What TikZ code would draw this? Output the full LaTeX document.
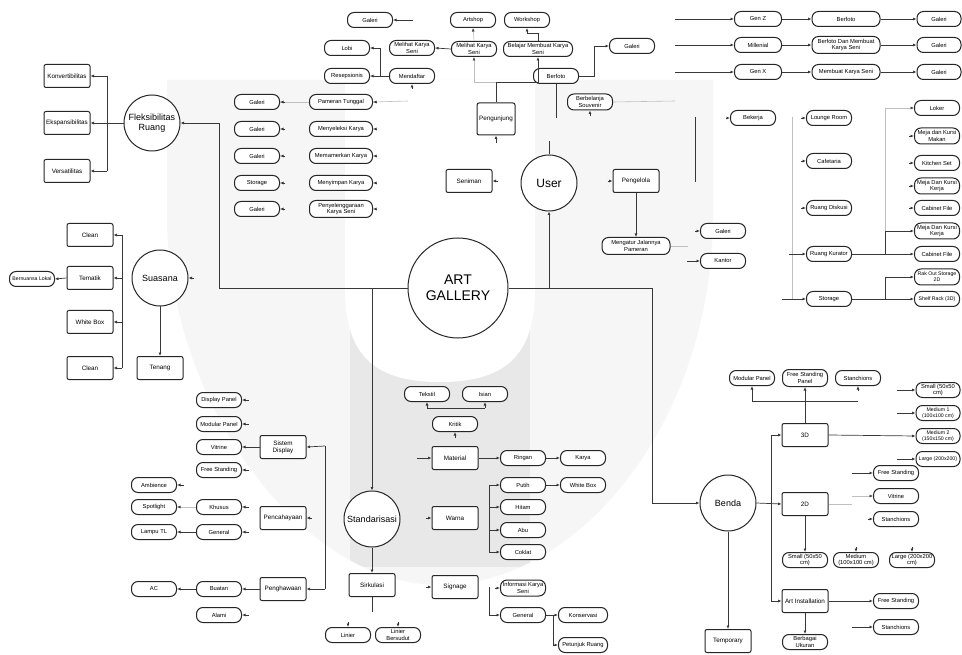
\documentclass[tikz,border=0pt]{standalone}
\usepackage{fontspec}
\setmainfont{Liberation Sans}
\usetikzlibrary{arrows.meta,calc}
\tikzset{
 ln/.style={line width=0.7pt, draw=black!78},
 ar/.style={ln, -{Latex[length=3.5pt,width=3pt]}},
 fnt/.style={line width=0.6pt, draw=black!25},
 fntar/.style={fnt, -{Latex[length=3.5pt,width=3pt,color=black!75]}},
 nd/.style={draw=black!85, line width=1pt, fill=white, align=center, inner xsep=1pt, inner ysep=1pt},
 pil/.style={nd, rounded corners=6.5pt, minimum width=45pt, minimum height=15pt, font=\fontsize{5.8}{6.4}\selectfont},
 bx/.style={nd, rounded corners=2pt, minimum width=46pt, minimum height=23pt, font=\fontsize{6.3}{7}\selectfont},
 crc/.style={nd, circle, minimum size=56pt, inner sep=0pt, font=\fontsize{9}{10.5}\selectfont},
 tiny/.style={font=\fontsize{5.2}{5.8}\selectfont},
}
\newcommand{\stubar}[3]{\draw[ar] ($(#1)+(#2,#3)$) -- (#1);}
\begin{document}
\begin{tikzpicture}[x=1pt,y=-1pt]
\useasboundingbox (0,0) rectangle (962,655);
\fill[white] (0,0) rectangle (962,655);
% watermark
\path[fill=black!3.5] (167,80) -- (713,80) -- (713,215) .. controls (713,420) and (580,585) .. (440,585) .. controls (300,585) and (167,400) .. (167,215) -- cycle;
\begin{scope}
\clip (167,80) -- (713,80) -- (713,215) .. controls (713,420) and (580,585) .. (440,585) .. controls (300,585) and (167,400) .. (167,215) -- cycle;
\fill[black!9] (350,325) rectangle (530,567);
\end{scope}
\fill[white] (345,80) -- (535,80) -- (535,290) .. controls (535,360) and (500,382) .. (440,382) .. controls (380,382) and (345,360) .. (345,290) -- cycle;

% ---------- nodes ----------
\node[crc, minimum size=100pt, font=\fontsize{14}{16}\selectfont] (art) at (458,288) {ART\\GALLERY};
% Fleksibilitas
\node[bx] (konv) at (67,76) {Konvertibilitas};
\node[bx] (eksp) at (67,123) {Ekspansibilitas};
\node[bx] (vers) at (67,171) {Versatilitas};
\node[crc] (fleks) at (152,123) {Fleksibilitas\\Ruang};
% Suasana
\node[bx] (clean1) at (90,235) {Clean};
\node[bx] (tematik) at (90,278) {Tematik};
\node[bx] (whitebox) at (90,322) {White Box};
\node[bx] (clean2) at (90,368) {Clean};
\node[crc] (suasana) at (160,278) {Suasana};
\node[bx] (tenang) at (160,368) {Tenang};
\node[pil, tiny] (bern) at (32,279) {Bernuansa Lokal};
% galeri column
\node[pil] (g1) at (257,102) {Galeri};
\node[pil] (g2) at (257,129) {Galeri};
\node[pil] (g3) at (257,156) {Galeri};
\node[pil] (g4) at (257,183) {Storage};
\node[pil] (g5) at (257,209) {Galeri};
\node[pil, minimum width=63pt] (p1) at (341,102) {Pameran Tunggal};
\node[pil, minimum width=63pt] (p2) at (341,129) {Menyeleksi Karya};
\node[pil, minimum width=63pt] (p3) at (341,156) {Memamerkan Karya};
\node[pil, minimum width=63pt] (p4) at (341,183) {Menyimpan Karya};
\node[pil, minimum width=63pt, minimum height=17pt] (p5) at (341,209) {Penyelenggaraan\\Karya Seni};
% top
\node[pil] (gal0) at (370,20) {Galeri};
\node[pil] (lobi) at (347,48) {Lobi};
\node[pil] (resep) at (347,76) {Resepsionis};
\node[pil] (daftar) at (412,76) {Mendaftar};
\node[pil] (lihat1) at (412,48) {Melihat Karya\\Seni};
\node[pil] (artshop) at (473,20) {Artshop};
\node[pil] (workshop) at (527,20) {Workshop};
\node[pil] (lihat2) at (474,49) {Melihat Karya\\Seni};
\node[pil, minimum width=69pt] (belajar) at (538,49) {Belajar Membuat Karya\\Seni};
\node[bx, minimum width=38pt, minimum height=32pt] (peng) at (496,119) {Pengunjung};
\node[crc, font=\fontsize{12}{14}\selectfont] (user) at (549,183) {User};
\node[pil] (berfoto) at (556,76) {Berfoto};
\node[pil] (gal7) at (632,46) {Galeri};
\node[pil, minimum height=16pt] (belanja) at (590,102) {Berbelanja\\Souvenir};
\node[bx] (seniman) at (469,181) {Seniman};
\node[bx] (pengelola) at (636,181) {Pengelola};
\node[pil, minimum width=68pt, minimum height=17pt] (atur) at (636,246) {Mengatur Jalannya\\Pameran};
\node[pil] (gal8) at (723,231) {Galeri};
\node[pil] (kantor) at (723,261) {Kantor};
\node[pil] (bekerja) at (753,118) {Bekerja};
% generations
\node[pil, minimum width=47pt] (genz) at (758,19) {Gen Z};
\node[pil, minimum width=47pt] (mill) at (758,45) {Millenial};
\node[pil, minimum width=47pt] (genx) at (758,72) {Gen X};
\node[pil, minimum width=68pt] (bf1) at (846,19) {Berfoto};
\node[pil, minimum width=68pt, minimum height=17pt] (bf2) at (846,45) {Berfoto Dan Membuat\\Karya Seni};
\node[pil, minimum width=68pt] (bf3) at (846,72) {Membuat Karya Seni};
\node[pil, minimum width=44pt] (gz1) at (939,19) {Galeri};
\node[pil, minimum width=44pt] (gz2) at (939,45) {Galeri};
\node[pil, minimum width=44pt] (gz3) at (939,72) {Galeri};
% rooms
\node[pil] (lounge) at (829,118) {Lounge Room};
\node[pil] (cafe) at (829,161) {Cafetaria};
\node[pil] (diskusi) at (829,208) {Ruang Diskusi};
\node[pil] (kurator) at (829,254) {Ruang Kurator};
\node[pil] (storage) at (829,299) {Storage};
\node[pil, minimum width=45pt] (loker) at (937,108) {Loker};
\node[pil, minimum height=16pt] (mejamakan) at (937,136) {Meja dan Kursi\\Makan};
\node[pil] (kitchen) at (937,163) {Kitchen Set};
\node[pil, minimum height=16pt] (mejak1) at (937,186) {Meja Dan Kursi\\Kerja};
\node[pil] (cab1) at (937,208) {Cabinet File};
\node[pil, minimum height=16pt] (mejak2) at (937,231) {Meja Dan Kursi\\Kerja};
\node[pil] (cab2) at (937,254) {Cabinet File};
\node[pil, tiny, minimum height=16pt] (rak) at (937,277) {Rak Out Storage\\2D};
\node[pil, tiny] (shelf) at (937,299) {Shelf Rack (3D)};
% Standarisasi
\node[crc] (stand) at (372,519) {Standarisasi};
\node[bx] (sirk) at (372,585) {Sirkulasi};
\node[pil] (linier) at (348,635) {Linier};
\node[pil] (linb) at (398,635) {Linier\\Bersudut};
\node[bx] (signage) at (455,587) {Signage};
\node[pil, minimum height=16pt] (info) at (523,588) {Informasi Karya\\Seni};
\node[pil] (general2) at (523,615) {General};
\node[pil, minimum width=49pt] (kons) at (583,615) {Konservasi};
\node[pil, minimum width=49pt] (petunjuk) at (583,645) {Petunjuk Ruang};
\node[bx] (material) at (455,458) {Material};
\node[pil] (ringan) at (523,458) {Ringan};
\node[pil] (karya) at (583,458) {Karya};
\node[bx] (warna) at (455,518) {Warna};
\node[pil] (putih) at (523,485) {Putih};
\node[pil] (hitam) at (523,507) {Hitam};
\node[pil] (abu) at (523,530) {Abu};
\node[pil] (coklat) at (523,552) {Coklat};
\node[pil] (wbox) at (583,485) {White Box};
\node[pil] (kritik) at (455,424) {Kritik};
\node[pil] (tekstil) at (427,394) {Tekstil};
\node[pil] (isian) at (485,394) {Isian};
% Sistem display etc
\node[pil] (dpanel) at (219,400) {Display Panel};
\node[pil] (mpanel) at (219,424) {Modular Panel};
\node[pil] (vitrine) at (219,447) {Vitrine};
\node[pil] (fstand) at (219,470) {Free Standing};
\node[bx] (sisdis) at (283,447) {Sistem\\Display};
\node[bx] (pencah) at (283,518) {Pencahayaan};
\node[bx] (pengh) at (283,589) {Penghawaan};
\node[pil] (ambience) at (154,485) {Ambience};
\node[pil] (spot) at (154,507) {Spotlight};
\node[pil] (khusus) at (219,507) {Khusus};
\node[pil] (general1) at (219,532) {General};
\node[pil] (lampu) at (154,532) {Lampu TL};
\node[pil] (buatan) at (219,589) {Buatan};
\node[pil] (ac) at (154,589) {AC};
\node[pil] (alami) at (219,615) {Alami};
% Benda
\node[crc] (benda) at (728,503) {Benda};
\node[bx] (d3) at (805,435) {3D};
\node[bx] (d2) at (805,504) {2D};
\node[bx] (inst) at (805,601) {Art Installation};
\node[bx] (temp) at (728,641) {Temporary};
\node[pil] (modp) at (752,378) {Modular Panel};
\node[pil, minimum height=17pt] (fsp) at (805,378) {Free Standing\\Panel};
\node[pil] (stan1) at (858,378) {Stanchions};
\node[pil, minimum width=44pt] (small3) at (938,390) {Small (50x50\\cm)};
\node[pil, tiny, minimum width=44pt] (med1) at (938,413) {Medium 1\\(100x100 cm)};
\node[pil, tiny, minimum width=44pt] (med2) at (938,436) {Medium 2\\(150x150 cm)};
\node[pil, tiny, minimum width=44pt] (large3) at (938,459) {Large (200x200)};
\node[pil] (fs2) at (896,473) {Free Standing};
\node[pil] (vit2) at (896,496) {Vitrine};
\node[pil] (stan2) at (896,519) {Stanchions};
\node[pil] (s2) at (805,560) {Small (50x50\\cm)};
\node[pil] (m2) at (856,560) {Medium\\(100x100 cm)};
\node[pil] (l2) at (912,560) {Large (200x200\\cm)};
\node[pil] (fs3) at (896,601) {Free Standing};
\node[pil] (stan3) at (896,627) {Stanchions};
\node[pil] (ukuran) at (805,642) {Berbagai\\Ukuran};

% ---------- coordinates ----------
\coordinate (ja) at (219,288);
\coordinate (jb) at (372,288);
\coordinate (jc) at (549,288);
\coordinate (jd) at (652,288);
\coordinate (fj) at (107,123);
\coordinate (sj1) at (122,235);
\coordinate (sj2) at (122,368);
\coordinate (dj) at (380,76);
\coordinate (gzs) at (675,19);
\coordinate (mls) at (675,45);
\coordinate (gxs) at (675,72);
\coordinate (pv1) at (695,117);
\coordinate (pv2) at (695,182);
\coordinate (rv1) at (792,117);
\coordinate (rv2) at (792,299);
\coordinate (rj1) at (885,108);
\coordinate (rj2) at (885,254);
\coordinate (rj3) at (885,299);
\coordinate (wj1) at (489,485);
\coordinate (wj2) at (489,552);
\coordinate (sgj) at (489,587);
\coordinate (gnj) at (553,615);
\coordinate (ti1) at (427,408);
\coordinate (ti2) at (485,408);
\coordinate (sdj1) at (325,446);
\coordinate (sdj2) at (325,589);
\coordinate (bj1) at (771,435);
\coordinate (bj2) at (771,601);
\coordinate (tj1) at (752,401);
\coordinate (tj2) at (858,401);
\coordinate (d2j) at (852,504);
\coordinate (pe) at (408,101);
\coordinate (be) at (675,101);

% ---------- connectors ----------
\draw[ar] (art.west) -- (ja) |- (fleks.east);
\draw[ar] (jb) -- (stand.north);
\draw[ar] (jc) -- (user.south);
\draw[ar] (art.east) -- (jd) |- (benda.west);
% fleks
\draw[ar] (fleks.west) -- (eksp.east);
\draw[ln] (fj |- konv) -- (fj |- vers);
\draw[ar] (fj |- konv) -- (konv.east);
\draw[ar] (fj |- vers) -- (vers.east);
% suasana
\draw[ln] (sj1) -- (sj2);
\draw[ar] (sj1) -- (clean1.east);
\draw[ar] (sj1 |- tematik) -- (tematik.east);
\draw[ar] (sj1 |- whitebox) -- (whitebox.east);
\draw[ar] (sj2) -- (clean2.east);
\draw[ar] (tematik.west) -- (bern.east);
\draw[ar] (suasana.south) -- (tenang.north);
\stubar{suasana.east}{5}{0}
% galeri column
\draw[fnt] (p1.west) -- (g1.east);
\draw[fnt] (p1.east) -- (pe);
\stubar{g1.east}{5}{0}
\stubar{g2.east}{5}{0}
\stubar{g3.east}{5}{0}
\stubar{g4.east}{5}{0}
\stubar{g5.east}{5}{0}
\stubar{p1.east}{4}{0}
\stubar{p2.east}{4}{0}
\stubar{p3.east}{4}{0}
\stubar{p4.east}{4}{0}
\stubar{p5.east}{4}{0}
% top
\stubar{gal0.east}{20}{0}
\draw[ar] (daftar.west) -- (resep.east);
\draw[ar] (dj) -- (dj |- lobi) -- (lobi.east);
\stubar{daftar.south}{0}{5}
\draw[ar] (lihat2.west) -- (lihat1.east);
\draw[fntar] (lihat2.north) -- (artshop.south);
\draw[ar] (belajar.north) -- ++(0,-8) -| (workshop.south);
\draw[ar] (peng.north) -- ++(0,-20) -| (belajar.south);
\draw[fntar] ($(peng.north)+(0,-20)$) -| (lihat2.south);
\stubar{peng.south}{0}{8}
\draw[ln] (user.north) -- ++(0,-13);
\draw[ar] (berfoto.east) -- ++(15,0) |- (gal7.west);
\draw[ln] (berfoto.south) -- ++(0,34);
\stubar{belanja.south}{0}{6}
\draw[fnt] (belanja.east) -- (be);
\stubar{seniman.east}{5}{0}
\stubar{pengelola.west}{-5}{0}
\draw[ar] (pengelola.south) -- (atur.north);
\draw[fnt] (atur.east) -- ++(17,0);
\stubar{gal8.west}{-5}{0}
\draw[ar] ($(kantor.west)+(-13,0)$) -- (kantor.west);
\draw[ln] (pv1) -- (pv2);
\stubar{bekerja.west}{-4}{0}
% generations
\draw[ar] (gzs) -- (genz.west);
\draw[ar] (mls) -- (mill.west);
\draw[ar] (gxs) -- (genx.west);
\draw[ar] (genz.east) -- (bf1.west);
\draw[ar] (mill.east) -- (bf2.west);
\draw[ar] (genx.east) -- (bf3.west);
\draw[ar] (bf1.east) -- (gz1.west);
\draw[ar] (bf2.east) -- (gz2.west);
\draw[ar] (bf3.east) -- (gz3.west);
% rooms
\draw[fnt] (rv1) -- (rv2);
\stubar{lounge.west}{-5}{0}
\stubar{cafe.west}{-5}{0}
\stubar{diskusi.west}{-5}{0}
\draw[ar] ($(kurator.west)+(-17,0)$) -- (kurator.west);
\draw[ar] ($(storage.west)+(-24,0)$) -- (storage.west);
\draw[ar] (kurator.east) -- (cab2.west);
\draw[ar] (rj2) |- (mejak2.west);
\draw[fnt] (rj1) -- (rj1 |- mejak2);
\draw[fntar] (rj1) -- (loker.west);
\stubar{mejamakan.west}{-5}{0}
\stubar{kitchen.west}{-5}{0}
\stubar{mejak1.west}{-5}{0}
\stubar{cab1.west}{-5}{0}
\draw[ar] (storage.east) -- (shelf.west);
\draw[ar] (rj3) |- (rak.west);
% standarisasi
\draw[ar] (stand.south) -- (sirk.north);
\draw[ln] (sirk.south) -- ++(0,15);
\stubar{linier.north}{0}{-5}
\stubar{linb.north}{0}{-5}
\stubar{signage.west}{-6}{0}
\draw[ln] (sgj) -- (sgj |- general2);
\draw[ar] (sgj |- general2) -- (general2.west);
\stubar{info.west}{-5}{0}
\draw[ar] (general2.east) -- (kons.west);
\draw[ar] (gnj) |- (petunjuk.west);
\draw[ar] ($(material.west)+(-15,0)$) -- (material.west);
\draw[ar] (material.east) -- (ringan.west);
\draw[ar] (ringan.east) -- (karya.west);
\stubar{warna.west}{-6}{0}
\draw[ln] (wj1) -- (wj2);
\draw[ar] (wj1) -- (putih.west);
\draw[ar] (wj1 |- hitam) -- (hitam.west);
\draw[ar] (wj1 |- abu) -- (abu.west);
\draw[ar] (wj2) -- (coklat.west);
\draw[ar] (putih.east) -- (wbox.west);
\stubar{kritik.south}{0}{6}
\draw[ln] (ti1) -- (ti2);
\draw[ar] (ti1) -- (tekstil.south);
\draw[ar] (ti2) -- (isian.south);
% sistem display
\stubar{dpanel.east}{7}{0}
\stubar{mpanel.east}{7}{0}
\stubar{fstand.east}{7}{0}
\draw[ar] (sisdis.west) -- (vitrine.east);
\draw[ln] (sdj1) -- (sdj2);
\draw[ar] (sdj1) -- (sisdis.east);
\draw[ar] (sdj2) -- (pengh.east);
\stubar{pencah.east}{5}{0}
\stubar{ambience.east}{7}{0}
\draw[fntar] (khusus.west) -- (spot.east);
\stubar{khusus.east}{7}{0}
\draw[ar] (general1.west) -- (lampu.east);
\stubar{general1.east}{7}{0}
\draw[ar] (pengh.west) -- (buatan.east);
\draw[ar] (buatan.west) -- (ac.east);
\stubar{alami.east}{7}{0}
% benda
\draw[ar] (benda.east) -- (d2.west);
\draw[ar] (benda.south) -- (temp.north);
\draw[ln] (bj1) -- (bj2);
\draw[ar] (bj1) -- (d3.west);
\draw[ar] (bj2) -- (inst.west);
\draw[ar] (d3.north) -- (fsp.south);
\draw[ar] (tj2) -- (tj1) -- (modp.south);
\stubar{stan1.south}{0}{5}
\draw[ar] (d3.east) -- (med2.west);
\draw[ar] ($(small3.west)+(-19,0)$) -- (small3.west);
\draw[ar] ($(med1.west)+(-19,0)$) -- (med1.west);
\draw[ar] ($(large3.west)+(-19,0)$) -- (large3.west);
\draw[ar] ($(fs2.west)+(-21,0)$) -- (fs2.west);
\draw[fnt] (d2.east) -- (d2j);
\draw[fntar] (d2j |- vit2) -- (vit2.west);
\stubar{stan2.west}{-5}{0}
\draw[ar] (d2.south) -- (s2.north);
\stubar{m2.north}{0}{-5}
\stubar{l2.north}{0}{-5}
\draw[ar] (inst.east) -- (fs3.west);
\draw[ar] ($(stan3.west)+(-21,0)$) -- (stan3.west);
\draw[ar] (inst.south) -- (ukuran.north);
\end{tikzpicture}
\end{document}
